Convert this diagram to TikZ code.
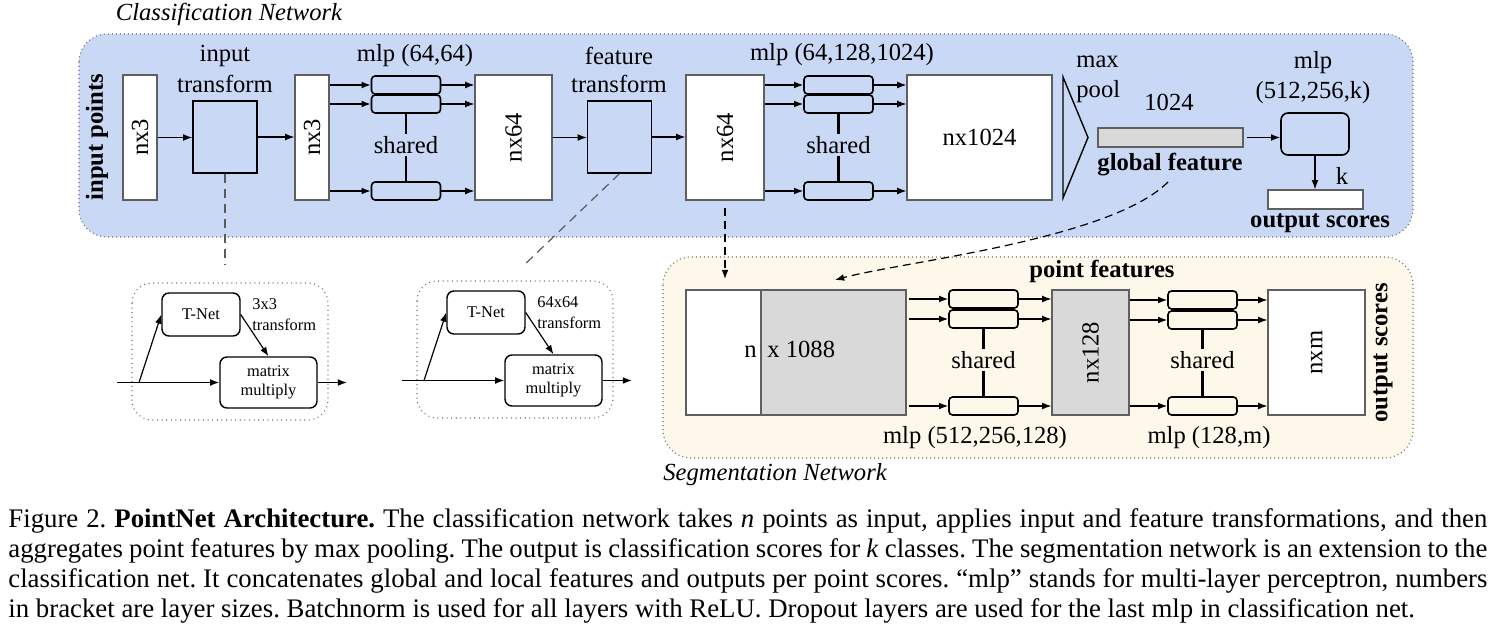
\documentclass[tikz,border=0pt]{standalone}
\usepackage{fontspec}
\setmainfont{Liberation Serif}
\usetikzlibrary{arrows.meta}
\definecolor{bgblue}{RGB}{200,216,245}
\definecolor{bgcream}{RGB}{253,248,234}
\definecolor{fillgray}{RGB}{217,217,217}
\definecolor{edgegray}{RGB}{95,95,95}
\definecolor{dashgray}{RGB}{90,90,90}
\definecolor{dotgray}{RGB}{110,110,110}
\frenchspacing
\tikzset{
  dg/.style={font=\fontsize{12.3}{14}\selectfont},
  dgi/.style={font=\fontsize{12.3}{14}\selectfont\itshape},
  dgb/.style={font=\fontsize{12.3}{14}\selectfont\bfseries},
  sm/.style={font=\fontsize{8.2}{9.8}\selectfont},
  capf/.style={font=\fontsize{13.4}{15}\selectfont, inner sep=0, anchor=base west},
  datab/.style={draw=edgegray, line width=0.6pt, inner sep=0},
  tbox/.style={draw=black, line width=0.65pt, fill=bgblue, inner sep=0, minimum width=32pt, minimum height=36pt},
  mlpbox/.style={draw=black, line width=0.8pt, rounded corners=1.8pt, inner sep=0, minimum width=34.5pt, minimum height=9pt},
  tnbox/.style={draw=black, line width=0.7pt, rounded corners=3.5pt, inner sep=0, font=\fontsize{8.2}{9.8}\selectfont},
  arr/.style={-{Latex[length=4.6pt,width=3.4pt]}, line width=0.6pt},
  frame/.style={draw=dotgray, line width=0.55pt, dash pattern=on 0.5pt off 1.5pt, rounded corners=14pt},
  tframe/.style={draw=dotgray, line width=0.55pt, dash pattern=on 0.5pt off 1.8pt, rounded corners=10pt},
  gdash/.style={draw=dashgray, line width=0.6pt, dash pattern=on 4.5pt off 3pt},
  bdash/.style={draw=black, line width=0.6pt, dash pattern=on 4pt off 2.5pt},
  sharedline/.style={line width=1.1pt},
}
\begin{document}
\begin{tikzpicture}[x=0.5pt,y=-0.5pt]
\useasboundingbox (0,0) rectangle (1493,631);
% ---------------- frames
\draw[frame, fill=bgblue] (79,34) rectangle (1413,237);
\draw[frame, fill=bgcream] (663,257) rectangle (1413,458);
\draw[tframe] (132,283) rectangle (328,420);
\draw[tframe] (417,281) rectangle (613,418);

% ---------------- classification network
\node[dgi] (ctitle) at (229,14) {Classification Network};
\node[dgb, rotate=90] (inpts) at (97,137) {input points};

\node[datab, fill=white, minimum width=17pt, minimum height=62.5pt] (b1) at (140,137.5) {};
\node[dg, rotate=90] (b1t) at (b1.center) {nx3};
\node[tbox] (t1) at (225,137) {};
\node[dg] (t1a) at (225,56) {input};
\node[dg] (t1b) at (225,84) {transform};
\node[datab, fill=white, minimum width=17pt, minimum height=62.5pt] (b2) at (312,137.5) {};
\node[dg, rotate=90] (b2t) at (b2.center) {nx3};
\draw[arr] (b1.east) -- (b1.east -| t1.west);
\draw[arr] (t1.east) -- (t1.east -| b2.west);

\node[mlpbox, fill=bgblue] (a1) at (406,85) {};
\node[mlpbox, fill=bgblue] (a2) at (406,104) {};
\node[mlpbox, fill=bgblue] (a3) at (406,191) {};
\node[dg] (mA) at (415,56) {mlp (64,64)};
\node[dg, inner sep=1pt] (sa) at (406,145) {shared};
\draw[sharedline] (a2.south) -- (sa.north);
\draw[sharedline] (sa.south) -- (a3.north);

\node[datab, fill=white, minimum width=38.5pt, minimum height=62.5pt] (c1) at (513.5,137.5) {};
\node[dg, rotate=90] (c1t) at (c1.center) {nx64};
\foreach \m in {a1,a2,a3}{
  \draw[arr] (b2.east |- \m.west) -- (\m.west);
  \draw[arr] (\m.east) -- (\m.east -| c1.west);
}

\node[tbox] (t2) at (619.5,137) {};
\node[dg] (t2a) at (619,56) {feature};
\node[dg] (t2b) at (619,84) {transform};
\node[datab, fill=white, minimum width=39pt, minimum height=62.5pt] (c2) at (725,137.5) {};
\node[dg, rotate=90] (c2t) at (c2.center) {nx64};
\draw[arr] (c1.east) -- (c1.east -| t2.west);
\draw[arr] (t2.east) -- (t2.east -| c2.west);

\node[mlpbox, fill=bgblue] (bb1) at (838.5,85) {};
\node[mlpbox, fill=bgblue] (bb2) at (838.5,104) {};
\node[mlpbox, fill=bgblue] (bb3) at (838.5,191) {};
\node[dg] (mB) at (842,55) {mlp (64,128,1024)};
\node[dg, inner sep=1pt] (sb) at (838.5,145) {shared};
\draw[sharedline] (bb2.south) -- (sb.north);
\draw[sharedline] (sb.south) -- (bb3.north);

\node[datab, fill=white, minimum width=72.5pt, minimum height=62.5pt] (c3) at (979.5,137.5) {};
\node[dg] (c3t) at (c3.center) {nx1024};
\foreach \m in {bb1,bb2,bb3}{
  \draw[arr] (c2.east |- \m.west) -- (\m.west);
  \draw[arr] (\m.east) -- (\m.east -| c3.west);
}

\draw[line width=0.7pt, line join=miter] (1063,77) -- (1088,137.5) -- (1063,198) -- cycle;
\node[dg, anchor=west, inner sep=0] (mx1) at (1076,62) {max};
\node[dg, anchor=west, inner sep=0] (mx2) at (1076,92) {pool};
\node[dg] (n1024) at (1169,102) {1024};
\node[datab, fill=fillgray, minimum width=72.5pt, minimum height=9.5pt] (gbar) at (1170.5,137.5) {};
\node[dgb] (gf) at (1170,165) {global feature};

\node[draw, line width=0.8pt, rounded corners=3.5pt, fill=bgblue, minimum width=34pt, minimum height=21pt, inner sep=0] (mc) at (1315,134) {};
\node[dg] (mc1) at (1313,63) {mlp};
\node[dg] (mc2) at (1313,93) {(512,256,k)};
\draw[arr, shorten <=1.5pt] (gbar.east) -- (gbar.east -| mc.west);
\node[datab, fill=white, minimum width=47.5pt, minimum height=9.5pt] (ob) at (1315.5,199.5) {};
\draw[arr] (mc.south) -- (mc.south |- ob.north);
\node[dg] (kk) at (1342,176) {k};
\node[dgb] (os1) at (1320,223) {output scores};

% ---------------- T-Net details
\node[tnbox, minimum width=39pt, minimum height=21.5pt] (tn1) at (201,314.5) {T-Net};
\node[tnbox, minimum width=48.5pt, minimum height=25.5pt, align=center] (mm1) at (268.5,382.5) {matrix\\multiply};
\node[sm, anchor=west, inner sep=0] (tr1a) at (252,304) {3x3};
\node[sm, anchor=west, inner sep=0] (tr1b) at (252,325) {transform};
\coordinate (in1) at (117,382.5);
\coordinate (br1) at (139,382.5);
\coordinate (out1) at (347,382.5);
\draw[arr] (in1) -- (mm1.west);
\draw[arr] (br1) -- (tn1.west);
\draw[arr] (tn1.east) -- (mm1.north);
\draw[arr] (mm1.east) -- (out1);

\node[tnbox, minimum width=39pt, minimum height=21.5pt] (tn2) at (486,312.5) {T-Net};
\node[tnbox, minimum width=48.5pt, minimum height=25.5pt, align=center] (mm2) at (553.5,380.5) {matrix\\multiply};
\node[sm, anchor=west, inner sep=0] (tr2a) at (537,302) {64x64};
\node[sm, anchor=west, inner sep=0] (tr2b) at (537,323) {transform};
\coordinate (in2) at (402,380.5);
\coordinate (br2) at (424,380.5);
\coordinate (out2) at (632,380.5);
\draw[arr] (in2) -- (mm2.west);
\draw[arr] (br2) -- (tn2.west);
\draw[arr] (tn2.east) -- (mm2.north);
\draw[arr] (mm2.east) -- (out2);

% ---------------- dashed connectors
\coordinate (d1) at (225,265);
\draw[gdash] (t1.south) -- (d1);
\coordinate (d2) at (522,267);
\draw[gdash] (t2.south) -- (d2);
\coordinate (d3) at (725,279);
\draw[bdash, arr] ([yshift=-3.5pt]c2.south) -- (d3);
\coordinate (gfs) at (1168,182);
\coordinate (d4) at (835,280);
\draw[bdash, arr] (gfs) .. controls (1110,240) and (900,262) .. (d4);

% ---------------- segmentation network
\node[dgi] (stitle) at (775,475) {Segmentation Network};
\node[dgb] (pf) at (1102,271) {point features};
\node[datab, fill=white, minimum width=37.5pt, minimum height=62.5pt] (s1) at (723.5,352.5) {};
\node[datab, fill=fillgray, minimum width=72.5pt, minimum height=62.5pt] (s2) at (833.5,352.5) {};
\node[dg, anchor=base east, inner sep=0] (sn) at (757,357) {n};
\node[dg, anchor=base west, inner sep=0] (sx) at (767,357) {x 1088};

\node[mlpbox, fill=bgcream] (e1) at (983.5,299) {};
\node[mlpbox, fill=bgcream] (e2) at (983.5,319) {};
\node[mlpbox, fill=bgcream] (e3) at (983.5,406) {};
\node[dg, inner sep=1pt] (se) at (983.5,360) {shared};
\draw[sharedline] (e2.south) -- (se.north);
\draw[sharedline] (se.south) -- (e3.north);
\node[dg] (mE) at (975,438) {mlp (512,256,128)};

\node[datab, fill=fillgray, minimum width=38.5pt, minimum height=62.5pt] (n128) at (1090.5,352.5) {};
\node[dg, rotate=90] (n128t) at (n128.center) {nx128};
\foreach \m in {e1,e2,e3}{
  \draw[arr, shorten <=1pt] (s2.east |- \m.west) -- (\m.west);
  \draw[arr] (\m.east) -- (\m.east -| n128.west);
}

\node[mlpbox, fill=bgcream] (f1) at (1202.5,300) {};
\node[mlpbox, fill=bgcream] (f2) at (1202.5,320) {};
\node[mlpbox, fill=bgcream] (f3) at (1202.5,406) {};
\node[dg, inner sep=1pt] (sf) at (1202.5,360) {shared};
\draw[sharedline] (f2.south) -- (sf.north);
\draw[sharedline] (sf.south) -- (f3.north);
\node[dg] (mF) at (1209,438) {mlp (128,m)};

\node[datab, fill=white, minimum width=48.5pt, minimum height=62.5pt] (nxm) at (1316.5,352.5) {};
\node[dg, rotate=90] (nxmt) at (nxm.center) {nxm};
\foreach \m in {f1,f2,f3}{
  \draw[arr] (n128.east |- \m.west) -- (\m.west);
  \draw[arr] (\m.east) -- (\m.east -| nxm.west);
}
\node[dgb, rotate=90] (os2) at (1383,353) {output scores};

% ---------------- caption
\node[capf] (cap1) at (8,527) {\makebox[739.5pt][s]{Figure 2. \textbf{PointNet Architecture.} The classification network takes \textit{n} points as input, applies input and feature transformations, and then}};
\node[capf] (cap2) at (8,557) {\makebox[739.5pt][s]{aggregates point features by max pooling. The output is classification scores for \textit{k} classes. The segmentation network is an extension to the}};
\node[capf] (cap3) at (8,587) {\makebox[739.5pt][s]{classification net. It concatenates global and local features and outputs per point scores. ``mlp'' stands for multi-layer perceptron, numbers}};
\node[capf] (cap4) at (8,617) {in bracket are layer sizes. Batchnorm is used for all layers with ReLU. Dropout layers are used for the last mlp in classification net.};
\end{tikzpicture}
\end{document}
